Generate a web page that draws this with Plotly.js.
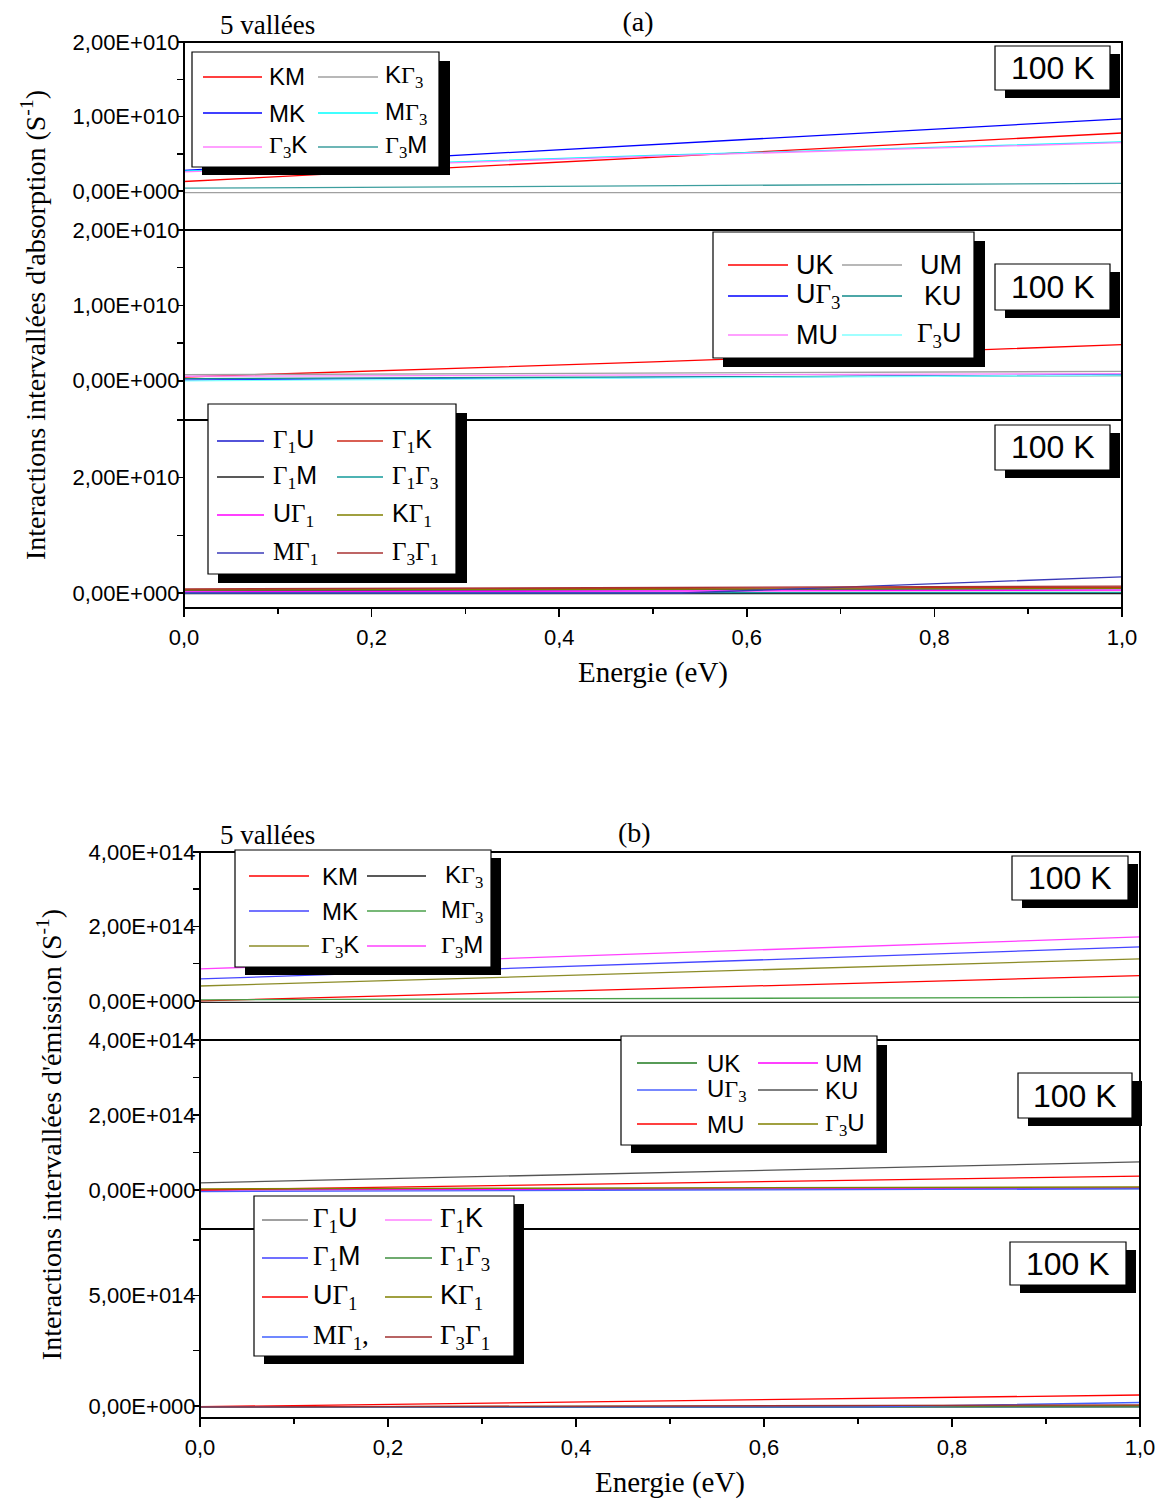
<!DOCTYPE html>
<html><head><meta charset="utf-8">
<script src="https://cdn.plot.ly/plotly-3.0.1.min.js"></script>
<style>html,body{margin:0;padding:0;background:#fff}#chart{width:1163px;height:1499px}</style>
</head><body><div id="chart"></div>
<script>
const W = 1163, H = 1499;
const SERIF = 'Liberation Serif, Times New Roman, serif';
const SANS = 'Liberation Sans, Arial, sans-serif';
function g(n){ return '<span style="font-family:Liberation Serif">Γ<sub>' + n + '</sub></span>'; }
function s(t){ return '<span style="font-family:Liberation Serif">' + t + '</span>'; }

// ---------- data ----------
const energy = [0, 0.5, 1.0];
const energyKinkA = [0, 0.53, 1.0];
const energyKinkB = [0, 0.71, 1.0];
const xTicks = [0, 0.2, 0.4, 0.6, 0.8, 1.0];
const xMinor = [0.1, 0.3, 0.5, 0.7, 0.9];

// (a) absorption, panel 1
const namesA1 = ['KM', 'K' + g(3), 'MK', 'M' + g(3), g(3) + 'K', g(3) + 'M'];
const colorsA1 = ['#ff0000', '#a0a0a0', '#0000ff', '#00ffff', '#ff80ff', '#3d9e9e'];
const valsA1 = [
  [1.3e9, 4.6e9, 7.8e9],
  [-2e8, -2e8, -2e8],
  [2.8e9, 6.3e9, 9.7e9],
  [2.7e9, 4.8e9, 6.6e9],
  [2.6e9, 4.7e9, 6.5e9],
  [4e8, 7e8, 1.05e9]
];
// (a) absorption, panel 2
const namesA2 = ['UK', 'UM', 'U' + g(3), 'KU', 'MU', g(3) + 'U'];
const colorsA2 = ['#ff0000', '#a0a0a0', '#0000ff', '#108a8a', '#ff80ff', '#80ffff'];
const valsA2 = [
  [5e8, 2.5e9, 4.8e9],
  [8e8, 1.0e9, 1.25e9],
  [1e8, 4.5e8, 8e8],
  [3e8, 5e8, 7e8],
  [6e8, 7.5e8, 9.5e8],
  [0, 4e8, 7.5e8]
];
// (a) absorption, panel 3
const namesA3 = [g(1) + 'U', g(1) + 'K', g(1) + 'M', g(1) + g(3), 'U' + g(1), 'K' + g(1), s('M') + g(1), g(3) + g(1)];
const colorsA3 = ['#1a1acc', '#cc2a1a', '#222222', '#139a9a', '#ff00ff', '#808000', '#3a3ab8', '#a83232'];
const valsA3 = [
  [4e8, 5.5e8, 7.5e8],
  [6e8, 8e8, 1.0e9],
  [-1e8, -1e8, -1e8],
  [0, 5e7, 1e8],
  [2e8, 3.5e8, 5e8],
  [5e8, 6.5e8, 8e8],
  [0, 0, 2.8e9],
  [7e8, 9.5e8, 1.2e9]
];
// (b) emission, panel 1
const namesB1 = ['KM', 'K' + g(3), 'MK', 'M' + g(3), g(3) + 'K', g(3) + 'M'];
const colorsB1 = ['#ff0000', '#222222', '#4545ff', '#4aa04a', '#8c8c28', '#ff40ff'];
const valsB1 = [
  [0, 3.4e13, 6.8e13],
  [-4e12, -4e12, -4e12],
  [5.9e13, 1.02e14, 1.45e14],
  [3e12, 6e12, 1e13],
  [4.0e13, 7.7e13, 1.13e14],
  [8.6e13, 1.29e14, 1.72e14]
];
// (b) emission, panel 2
const namesB2 = ['UK', 'UM', 'U' + g(3), 'KU', 'MU', g(3) + 'U'];
const colorsB2 = ['#1f7a1f', '#ff00ff', '#4a60ff', '#555555', '#ff0000', '#808000'];
const valsB2 = [
  [1e12, 2.5e12, 4e12],
  [0, 3e12, 6e12],
  [-4e12, 0, 3e12],
  [1.9e13, 4.7e13, 7.5e13],
  [0, 1.8e13, 3.7e13],
  [3e12, 5e12, 8e12]
];
// (b) emission, panel 3
const namesB3 = [g(1) + 'U', g(1) + 'K', g(1) + 'M', g(1) + g(3), 'U' + g(1), 'K' + g(1), s('M') + g(1) + s(','), g(3) + g(1)];
const colorsB3 = ['#808080', '#ff80ff', '#4040ff', '#3f8f3f', '#ff0000', '#808000', '#4060ff', '#a03030'];
const valsB3 = [
  [-5e12, -5e12, -4e12],
  [-5e12, -3e12, 0],
  [-5e12, -5e12, -3e12],
  [-5e12, -5e12, -4e12],
  [-3e12, 2.4e13, 5e13],
  [-4e12, -2e12, 2e12],
  [-4e12, -4e12, 1.6e13],
  [-4e12, 0, 5e12]
];

// y tick labels
const yTicksA12 = [0, 1e10, 2e10];
const yTextA12 = ['0,00E+000', '1,00E+010', '2,00E+010'];
const yMinorA12 = [0.5e10, 1.5e10];
const yTicksA3 = [0, 2e10];
const yTextA3 = ['0,00E+000', '2,00E+010'];
const yMinorA3 = [1e10, 3e10];
const yTicksB12 = [0, 2e14, 4e14];
const yTextB12 = ['0,00E+000', '2,00E+014', '4,00E+014'];
const yMinorB12 = [1e14, 3e14];
const yTicksB3 = [0, 5e14];
const yTextB3 = ['0,00E+000', '5,00E+014'];
const yMinorB3 = [2.5e14, 7.5e14];

// ---------- helpers ----------
const X = px => px / W;
const Y = py => 1 - py / H;

const panels = [
  {names: namesA1, colors: colorsA1, vals: valsA1, kink: null, xa: 'x', ya: 'y'},
  {names: namesA2, colors: colorsA2, vals: valsA2, kink: null, xa: 'x', ya: 'y2'},
  {names: namesA3, colors: colorsA3, vals: valsA3, kink: [6, energyKinkA], xa: 'x', ya: 'y3'},
  {names: namesB1, colors: colorsB1, vals: valsB1, kink: null, xa: 'x2', ya: 'y4'},
  {names: namesB2, colors: colorsB2, vals: valsB2, kink: null, xa: 'x2', ya: 'y5'},
  {names: namesB3, colors: colorsB3, vals: valsB3, kink: [6, energyKinkB], xa: 'x2', ya: 'y6'}
];

const traces = [];
panels.forEach(p => {
  p.names.forEach((n, i) => {
    const xs = (p.kink && p.kink[0] === i) ? p.kink[1] : energy;
    traces.push({
      type: 'scatter', mode: 'lines', name: n, x: xs, y: p.vals[i],
      xaxis: p.xa, yaxis: p.ya, showlegend: false,
      line: {color: p.colors[i], width: 1.3}
    });
  });
});

const shapes = [];
const annotations = [];

function rect(x0, y0, x1, y1, fill, lw) {
  shapes.push({type: 'rect', xref: 'paper', yref: 'paper', x0: X(x0), y0: Y(y0), x1: X(x1), y1: Y(y1),
    fillcolor: fill, line: {color: '#000', width: lw}, layer: 'above'});
}
// panel frames
const frameA = [42, 230, 420, 608];
const frameB = [852, 1040, 1229, 1418];
for (let i = 0; i < 3; i++) rect(184, frameA[i], 1122, frameA[i + 1], 'rgba(0,0,0,0)', 2);
for (let i = 0; i < 3; i++) rect(200, frameB[i], 1140, frameB[i + 1], 'rgba(0,0,0,0)', 2);

function addLegend(L) {
  rect(L.shadow[0], L.shadow[1], L.shadow[2], L.shadow[3], '#000', 0);
  rect(L.box[0], L.box[1], L.box[2], L.box[3], '#fff', 1.2);
  L.names.forEach((n, i) => {
    const row = Math.floor(i / 2), col = i % 2;
    const y = L.rows[row];
    const ln = col === 0 ? L.lineL : L.lineR;
    shapes.push({type: 'line', xref: 'paper', yref: 'paper', x0: X(ln[0]), x1: X(ln[1]), y0: Y(y), y1: Y(y),
      line: {color: L.colors[i], width: 1.5}, layer: 'above'});
    const lab = col === 0 ? L.labL : L.labR;
    annotations.push({text: n, xref: 'paper', yref: 'paper', x: X(lab[0]), y: Y(y), xanchor: lab[1], yanchor: 'middle',
      showarrow: false, font: {family: SANS, size: L.size, color: '#000'}});
  });
}
addLegend({names: namesA1, colors: colorsA1, box: [192, 52, 439, 167], shadow: [202, 61, 450, 175], rows: [77, 113, 147],
  lineL: [203, 262], lineR: [318, 378], labL: [267, 'left'], labR: [383, 'left'], size: 24});
addLegend({names: namesA2, colors: colorsA2, box: [713, 232, 974, 358], shadow: [723, 241, 985, 367], rows: [265, 296, 335],
  lineL: [728, 788], lineR: [842, 902], labL: [794, 'left'], labR: [964, 'right'], size: 27});
addLegend({names: namesA3, colors: colorsA3, box: [208, 404, 456, 574], shadow: [218, 413, 467, 583], rows: [441, 477, 515, 553],
  lineL: [217, 264], lineR: [337, 383], labL: [271, 'left'], labR: [390, 'left'], size: 25});
addLegend({names: namesB1, colors: colorsB1, box: [235, 850, 491, 967], shadow: [245, 858, 501, 975], rows: [876, 911, 946],
  lineL: [249, 309], lineR: [367, 426], labL: [340, 'center'], labR: [485, 'right'], size: 24});
addLegend({names: namesB2, colors: colorsB2, box: [621, 1036, 877, 1145], shadow: [631, 1045, 887, 1153], rows: [1063, 1090, 1124],
  lineL: [637, 697], lineR: [758, 818], labL: [705, 'left'], labR: [823, 'left'], size: 24});
addLegend({names: namesB3, colors: colorsB3, box: [254, 1196, 514, 1356], shadow: [264, 1204, 524, 1364], rows: [1220, 1258, 1297, 1337],
  lineL: [262, 308], lineR: [385, 432], labL: [311, 'left'], labR: [438, 'left'], size: 27});

// temperature boxes
const tempLabel = '100 K';
const tempBoxes = [
  [995, 46, 1110, 90], [995, 264, 1110, 310], [995, 425, 1110, 470],
  [1012, 856, 1128, 900], [1018, 1073, 1132, 1118], [1010, 1242, 1126, 1285]
];
tempBoxes.forEach(b => {
  rect(b[0] + 10, b[1] + 8, b[2] + 10, b[3] + 8, '#000', 0);
  rect(b[0], b[1], b[2], b[3], '#fff', 1.2);
  annotations.push({text: tempLabel, xref: 'paper', yref: 'paper', x: X((b[0] + b[2]) / 2), y: Y((b[1] + b[3]) / 2),
    xanchor: 'center', yanchor: 'middle', showarrow: false, font: {family: SANS, size: 32, color: '#000'}});
});

// other texts
annotations.push({text: '5 vallées', xref: 'paper', yref: 'paper', x: X(267), y: Y(25), xanchor: 'center', yanchor: 'middle',
  showarrow: false, font: {family: SERIF, size: 27, color: '#000'}});
annotations.push({text: '5 vallées', xref: 'paper', yref: 'paper', x: X(267), y: Y(835), xanchor: 'center', yanchor: 'middle',
  showarrow: false, font: {family: SERIF, size: 27, color: '#000'}});
annotations.push({text: '(b)', xref: 'paper', yref: 'paper', x: X(634), y: Y(832), xanchor: 'center', yanchor: 'middle',
  showarrow: false, font: {family: SERIF, size: 28, color: '#000'}});

function yAxis(top, bot, range, tv, tt, mv, anchor, title) {
  const ax = {
    domain: [Y(bot), Y(top)], anchor: anchor, range: range,
    tickmode: 'array', tickvals: tv, ticktext: tt,
    ticks: 'outside', ticklen: 6, tickwidth: 1.5, tickcolor: '#000',
    minor: {tickmode: 'array', tickvals: mv, ticks: 'outside', ticklen: 6, tickwidth: 1.5, tickcolor: '#000'},
    showgrid: false, zeroline: false, showline: false,
    tickfont: {family: SANS, size: 22, color: '#000'}, ticklabelstandoff: -7
  };
  if (title) ax.title = {text: title, font: {family: SERIF, size: 28, color: '#000'}, standoff: 18};
  return ax;
}
function xAxis(x0, x1, anchor) {
  return {
    domain: [X(x0), X(x1)], anchor: anchor, range: [0, 1],
    tickmode: 'array', tickvals: xTicks, tickformat: '.1f',
    ticks: 'outside', ticklen: 8, tickwidth: 1.5, tickcolor: '#000',
    minor: {tickmode: 'array', tickvals: xMinor, ticks: 'outside', ticklen: 5, tickwidth: 1.5, tickcolor: '#000'},
    showgrid: false, zeroline: false, showline: false,
    tickfont: {family: SANS, size: 22, color: '#000'}, ticklabelstandoff: 2,
    title: {text: 'Energie (eV)', font: {family: SERIF, size: 29, color: '#000'}, standoff: 12}
  };
}

const layout = {
  width: W, height: H, margin: {l: 0, r: 0, t: 0, b: 0},
  paper_bgcolor: '#fff', plot_bgcolor: 'rgba(0,0,0,0)', showlegend: false,
  separators: ', ', font: {family: SANS, size: 20, color: '#000'},
  title: {text: '(a)', font: {family: SERIF, size: 28, color: '#000'}, xref: 'paper', x: X(638), xanchor: 'center',
    yref: 'container', y: Y(21), yanchor: 'middle'},
  xaxis: xAxis(184, 1122, 'y3'),
  xaxis2: xAxis(200, 1140, 'y6'),
  yaxis: yAxis(42, 230, [-0.52e10, 2e10], yTicksA12, yTextA12, yMinorA12, 'x'),
  yaxis2: yAxis(230, 420, [-0.52e10, 2e10], yTicksA12, yTextA12, yMinorA12, 'x', "Interactions intervallées d'absorption (S<sup>-1</sup>)"),
  yaxis3: yAxis(420, 608, [-0.26e10, 3e10], yTicksA3, yTextA3, yMinorA3, 'x'),
  yaxis4: yAxis(852, 1040, [-1.05e14, 4e14], yTicksB12, yTextB12, yMinorB12, 'x2'),
  yaxis5: yAxis(1040, 1229, [-1.04e14, 4e14], yTicksB12, yTextB12, yMinorB12, 'x2', "Interactions intervallées d'émission (S<sup>-1</sup>)"),
  yaxis6: yAxis(1229, 1418, [-0.54e14, 8e14], yTicksB3, yTextB3, yMinorB3, 'x2'),
  shapes: shapes, annotations: annotations
};

Plotly.newPlot('chart', traces, layout, {displayModeBar: false, staticPlot: true});
</script>
</body></html>
